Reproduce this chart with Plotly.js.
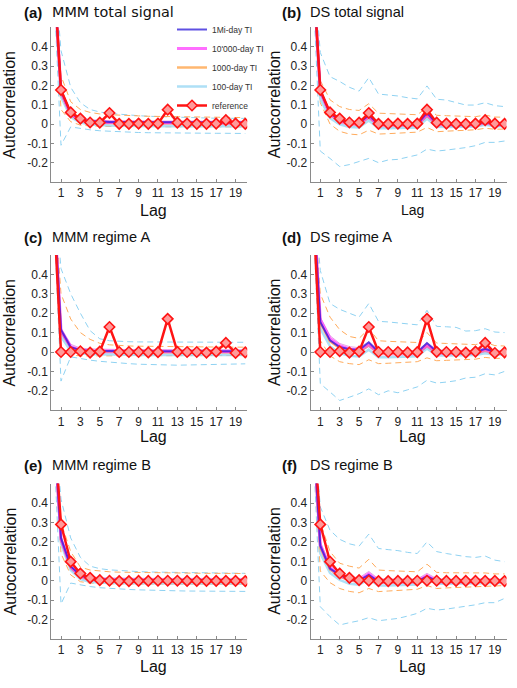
<!DOCTYPE html>
<html>
<head>
<meta charset="utf-8">
<script src="https://cdn.plot.ly/plotly-3.0.1.min.js"></script>
<style>
  html, body { margin: 0; padding: 0; background: #ffffff; }
  #chart { width: 517px; height: 688px; }
</style>
</head>
<body>
<div id="chart"></div>
<script>
// Lags 0..20 of the autocorrelation function
const lags = [0, 1, 2, 3, 4, 5, 6, 7, 8, 9, 10, 11, 12, 13, 14, 15, 16, 17, 18, 19, 20];

const xTickVals = [1, 3, 5, 7, 9, 11, 13, 15, 17, 19];
const yTickVals = [-0.2, -0.1, 0, 0.1, 0.2, 0.3, 0.4];
const yTickText = ['-0.2', '-0.1', '0', '0.1', '0.2', '0.3', '0.4'];

const seriesNames = ['1Mi-day TI', "10'000-day TI", '1000-day TI', '100-day TI', 'reference'];

// Reference (observed) autocorrelation
const refTotal = [1, 0.176, 0.06, 0.028, 0.008, 0.007, 0.057, 0.001, 0.001, 0.002, 0.001, 0.002, 0.074, 0.007, 0.002, 0.001, 0.001, 0.002, 0.02, 0.002, 0.001];
const refA = [1, 0, 0, 0.004, -0.003, 0.002, 0.129, 0, 0, 0, -0.002, -0.001, 0.171, 0.001, 0, 0, -0.003, 0.002, 0.047, -0.005, -0.002];
const refB = [1, 0.29, 0.098, 0.037, 0.015, 0.003, 0.0, -0.002, -0.002, -0.001, -0.001, 0.0, 0.0, 0.0, -0.001, -0.001, -0.001, -0.001, -0.001, -0.001, -0.002];

// (a) MMM total signal
const blue1Mi_a = [1, 0.172, 0.056, 0.025, 0.015, 0.012, 0.011, 0.01, 0.01, 0.01, 0.01, 0.009, 0.009, 0.009, 0.009, 0.009, 0.009, 0.009, 0.009, 0.008, 0.008];
const mag10k_a = [1, 0.168, 0.052, 0.022, 0.013, 0.01, 0.009, 0.009, 0.008, 0.008, 0.008, 0.008, 0.008, 0.008, 0.007, 0.007, 0.007, 0.007, 0.007, 0.007, 0.007];
const mag10kLo_a = [1, 0.155, 0.042, 0.013, 0.004, 0.002, 0.001, 0.001, 0, 0, 0, 0, 0, 0, 0, 0, 0, -0.001, -0.001, -0.001, -0.001];
const mag10kHi_a = [1, 0.18, 0.062, 0.031, 0.022, 0.018, 0.017, 0.016, 0.016, 0.015, 0.015, 0.015, 0.015, 0.015, 0.014, 0.014, 0.014, 0.014, 0.014, 0.014, 0.014];
const or1000_a = [1, 0.16, 0.048, 0.018, 0.009, 0.006, 0.005, 0.004, 0.004, 0.004, 0.003, 0.003, 0.003, 0.003, 0.003, 0.003, 0.003, 0.003, 0.003, 0.003, 0.003];
const or1000Lo_a = [1, 0.075, 0.012, -0.006, -0.01, -0.012, -0.013, -0.014, -0.014, -0.014, -0.015, -0.015, -0.015, -0.015, -0.015, -0.015, -0.015, -0.015, -0.015, -0.015, -0.015];
const or1000Hi_a = [1, 0.25, 0.115, 0.075, 0.06, 0.052, 0.048, 0.045, 0.043, 0.042, 0.04, 0.039, 0.038, 0.037, 0.036, 0.036, 0.035, 0.035, 0.034, 0.034, 0.033];
const lb100_a = [1, 0.14, 0.036, 0.008, -0.002, -0.006, -0.008, -0.009, -0.01, -0.01, -0.011, -0.011, -0.011, -0.011, -0.011, -0.012, -0.012, -0.012, -0.012, -0.012, -0.012];
const lb100Lo_a = [1, -0.11, -0.015, -0.024, -0.03, -0.035, -0.038, -0.04, -0.042, -0.044, -0.045, -0.046, -0.046, -0.047, -0.047, -0.048, -0.048, -0.048, -0.048, -0.049, -0.049];
const lb100Hi_a = [1, 0.38, 0.19, 0.11, 0.075, 0.062, 0.055, 0.05, 0.046, 0.043, 0.04, 0.038, 0.036, 0.034, 0.033, 0.032, 0.031, 0.03, 0.03, 0.029, 0.029];

// (b) DS total signal
const blue1Mi_b = [1, 0.172, 0.056, 0.02, 0.006, 0.005, 0.046, -0.002, -0.002, -0.001, -0.002, -0.001, 0.058, 0.003, -0.001, -0.002, -0.002, -0.001, 0.012, -0.001, -0.002];
const mag10k_b = [1, 0.168, 0.054, 0.018, 0.004, 0.003, 0.04, -0.003, -0.003, -0.002, -0.003, -0.002, 0.05, 0.002, -0.002, -0.003, -0.003, -0.002, 0.01, -0.002, -0.003];
const mag10kLo_b = [1, 0.155, 0.042, 0.006, -0.008, -0.009, 0.028, -0.014, -0.014, -0.013, -0.013, -0.012, 0.038, -0.008, -0.011, -0.012, -0.012, -0.011, 0.0, -0.011, -0.011];
const mag10kHi_b = [1, 0.18, 0.066, 0.03, 0.016, 0.015, 0.052, 0.008, 0.008, 0.009, 0.008, 0.008, 0.062, 0.012, 0.008, 0.007, 0.007, 0.008, 0.02, 0.007, 0.006];
const or1000_b = [1, 0.165, 0.05, 0.015, 0.0, -0.002, 0.035, -0.006, -0.006, -0.005, -0.005, -0.004, 0.042, 0.0, -0.004, -0.004, -0.004, -0.004, 0.008, -0.004, -0.004];
const or1000Lo_b = [1, 0.11, 0.0, -0.038, -0.052, -0.056, -0.032, -0.052, -0.05, -0.047, -0.045, -0.042, -0.018, -0.04, -0.037, -0.035, -0.032, -0.03, -0.022, -0.027, -0.026];
const or1000Hi_b = [1, 0.225, 0.125, 0.09, 0.075, 0.07, 0.105, 0.056, 0.054, 0.052, 0.05, 0.048, 0.085, 0.045, 0.043, 0.041, 0.039, 0.038, 0.046, 0.036, 0.035];
const lb100_b = [1, 0.13, 0.03, -0.002, -0.016, -0.018, 0.018, -0.022, -0.022, -0.02, -0.02, -0.018, 0.028, -0.014, -0.016, -0.015, -0.014, -0.013, -0.004, -0.012, -0.012];
const lb100Lo_b = [1, -0.14, -0.178, -0.22, -0.21, -0.195, -0.178, -0.2, -0.186, -0.183, -0.17, -0.16, -0.13, -0.14, -0.135, -0.13, -0.122, -0.112, -0.095, -0.095, -0.088];
const lb100Hi_b = [1, 0.37, 0.245, 0.22, 0.19, 0.17, 0.24, 0.155, 0.15, 0.145, 0.136, 0.13, 0.197, 0.128, 0.124, 0.112, 0.098, 0.098, 0.11, 0.095, 0.09];

// (c) MMM regime A
const blue1Mi_c = [1, 0.115, 0.025, 0.009, 0.006, 0.005, 0.005, 0.005, 0.004, 0.004, 0.004, 0.004, 0.004, 0.004, 0.004, 0.004, 0.004, 0.004, 0.004, 0.004, 0.004];
const mag10k_c = [1, 0.11, 0.028, 0.01, 0.006, 0.005, 0.004, 0.004, 0.004, 0.004, 0.004, 0.004, 0.004, 0.004, 0.004, 0.003, 0.003, 0.003, 0.003, 0.003, 0.003];
const mag10kLo_c = [1, 0.095, 0.016, 0.0, -0.004, -0.005, -0.005, -0.005, -0.005, -0.005, -0.005, -0.005, -0.005, -0.005, -0.005, -0.005, -0.005, -0.005, -0.005, -0.005, -0.005];
const mag10kHi_c = [1, 0.125, 0.04, 0.02, 0.016, 0.014, 0.013, 0.013, 0.013, 0.012, 0.012, 0.012, 0.012, 0.012, 0.012, 0.012, 0.012, 0.012, 0.012, 0.012, 0.012];
const or1000_c = [1, 0.105, 0.024, 0.006, 0.002, 0.001, 0.0, 0.0, 0.0, -0.001, -0.001, -0.001, -0.001, -0.001, -0.001, -0.001, -0.001, -0.001, -0.001, -0.001, -0.001];
const or1000Lo_c = [1, 0.0, -0.015, -0.02, -0.02, -0.02, -0.02, -0.02, -0.02, -0.02, -0.02, -0.02, -0.02, -0.02, -0.019, -0.019, -0.019, -0.018, -0.018, -0.018, -0.018];
const or1000Hi_c = [1, 0.3, 0.17, 0.1, 0.065, 0.045, 0.037, 0.033, 0.031, 0.03, 0.029, 0.028, 0.028, 0.027, 0.027, 0.026, 0.026, 0.026, 0.025, 0.025, 0.025];
const lb100_c = [1, 0.08, 0.005, -0.008, -0.012, -0.013, -0.014, -0.014, -0.015, -0.015, -0.015, -0.015, -0.015, -0.015, -0.015, -0.015, -0.015, -0.015, -0.015, -0.015, -0.015];
const lb100Lo_c = [1, -0.15, -0.025, -0.035, -0.042, -0.048, -0.053, -0.057, -0.06, -0.063, -0.065, -0.067, -0.068, -0.068, -0.067, -0.066, -0.065, -0.064, -0.063, -0.062, -0.061];
const lb100Hi_c = [1, 0.43, 0.3, 0.2, 0.11, 0.068, 0.058, 0.054, 0.053, 0.052, 0.052, 0.052, 0.052, 0.051, 0.051, 0.051, 0.051, 0.051, 0.051, 0.05, 0.05];

// (d) DS regime A
const blue1Mi_d = [1, 0.155, 0.06, 0.026, 0.014, 0.01, 0.05, 0.0, -0.003, -0.003, -0.003, -0.003, 0.046, 0.003, -0.002, -0.002, -0.002, -0.001, 0.017, 0.0, -0.001];
const mag10k_d = [1, 0.165, 0.07, 0.032, 0.016, 0.01, 0.04, -0.002, -0.004, -0.004, -0.004, -0.004, 0.036, 0.001, -0.003, -0.003, -0.003, -0.002, 0.012, -0.002, -0.002];
const mag10kLo_d = [1, 0.15, 0.056, 0.02, 0.004, -0.002, 0.027, -0.014, -0.016, -0.016, -0.016, -0.015, 0.024, -0.011, -0.014, -0.014, -0.013, -0.012, 0.001, -0.012, -0.012];
const mag10kHi_d = [1, 0.18, 0.084, 0.044, 0.028, 0.022, 0.053, 0.01, 0.008, 0.008, 0.008, 0.007, 0.048, 0.012, 0.008, 0.008, 0.007, 0.008, 0.023, 0.008, 0.008];
const or1000_d = [1, 0.15, 0.055, 0.02, 0.005, 0.0, 0.035, -0.008, -0.008, -0.008, -0.008, -0.007, 0.032, -0.003, -0.006, -0.006, -0.006, -0.005, 0.008, -0.005, -0.005];
const or1000Lo_d = [1, 0.06, -0.02, -0.05, -0.06, -0.065, -0.04, -0.06, -0.058, -0.055, -0.052, -0.05, -0.03, -0.045, -0.043, -0.041, -0.039, -0.037, -0.028, -0.033, -0.032];
const or1000Hi_d = [1, 0.3, 0.18, 0.115, 0.08, 0.07, 0.12, 0.058, 0.055, 0.053, 0.05, 0.049, 0.1, 0.046, 0.044, 0.042, 0.04, 0.038, 0.05, 0.033, 0.031];
const lb100_d = [1, 0.12, 0.03, -0.006, -0.02, -0.023, 0.012, -0.027, -0.027, -0.025, -0.024, -0.022, 0.018, -0.018, -0.018, -0.017, -0.016, -0.015, -0.006, -0.014, -0.013];
const lb100Lo_d = [1, -0.163, -0.206, -0.25, -0.233, -0.215, -0.19, -0.22, -0.2, -0.21, -0.195, -0.18, -0.146, -0.16, -0.155, -0.148, -0.134, -0.13, -0.112, -0.118, -0.1];
const lb100Hi_d = [1, 0.42, 0.25, 0.22, 0.2, 0.18, 0.25, 0.158, 0.155, 0.15, 0.146, 0.14, 0.215, 0.132, 0.13, 0.127, 0.108, 0.11, 0.12, 0.103, 0.1];

// (e) MMM regime B
const blue1Mi_e = [1, 0.22, 0.075, 0.028, 0.012, 0.007, 0.005, 0.005, 0.004, 0.004, 0.004, 0.004, 0.004, 0.004, 0.004, 0.004, 0.004, 0.004, 0.004, 0.004, 0.004];
const mag10k_e = [1, 0.215, 0.072, 0.026, 0.011, 0.006, 0.004, 0.004, 0.004, 0.004, 0.003, 0.003, 0.003, 0.003, 0.003, 0.003, 0.003, 0.003, 0.003, 0.003, 0.003];
const mag10kLo_e = [1, 0.2, 0.06, 0.015, 0.0, -0.004, -0.005, -0.005, -0.005, -0.005, -0.005, -0.005, -0.005, -0.005, -0.005, -0.005, -0.005, -0.005, -0.005, -0.005, -0.005];
const mag10kHi_e = [1, 0.23, 0.085, 0.037, 0.022, 0.016, 0.014, 0.013, 0.013, 0.012, 0.012, 0.012, 0.012, 0.012, 0.012, 0.012, 0.012, 0.012, 0.012, 0.012, 0.012];
const or1000_e = [1, 0.21, 0.068, 0.022, 0.007, 0.002, 0.0, -0.001, -0.001, -0.001, -0.001, -0.001, -0.001, -0.001, -0.001, -0.001, -0.001, -0.001, -0.001, -0.001, -0.001];
const or1000Lo_e = [1, 0.14, 0.03, -0.005, -0.012, -0.015, -0.016, -0.017, -0.017, -0.017, -0.017, -0.017, -0.017, -0.017, -0.017, -0.017, -0.017, -0.017, -0.017, -0.017, -0.017];
const or1000Hi_e = [1, 0.3, 0.15, 0.07, 0.055, 0.049, 0.046, 0.044, 0.043, 0.042, 0.041, 0.04, 0.04, 0.039, 0.039, 0.038, 0.038, 0.038, 0.037, 0.037, 0.037];
const lb100_e = [1, 0.19, 0.055, 0.008, -0.006, -0.01, -0.012, -0.013, -0.013, -0.014, -0.014, -0.014, -0.014, -0.014, -0.014, -0.014, -0.014, -0.014, -0.014, -0.014, -0.014];
const lb100Lo_e = [1, -0.12, -0.012, -0.022, -0.03, -0.036, -0.04, -0.043, -0.045, -0.047, -0.049, -0.05, -0.051, -0.052, -0.053, -0.053, -0.054, -0.054, -0.055, -0.055, -0.055];
const lb100Hi_e = [1, 0.42, 0.22, 0.12, 0.075, 0.062, 0.056, 0.052, 0.049, 0.047, 0.045, 0.044, 0.043, 0.042, 0.041, 0.04, 0.04, 0.039, 0.039, 0.038, 0.038];

// (f) DS regime B
const blue1Mi_f = [1, 0.18, 0.063, 0.03, 0.008, 0.002, 0.03, -0.003, -0.004, -0.003, -0.003, -0.003, 0.022, -0.001, -0.003, -0.003, -0.003, -0.003, 0.001, -0.003, -0.003];
const mag10k_f = [1, 0.185, 0.068, 0.03, 0.01, 0.003, 0.036, -0.002, -0.003, -0.003, -0.003, -0.002, 0.026, 0.0, -0.003, -0.003, -0.003, -0.002, 0.002, -0.002, -0.003];
const mag10kLo_f = [1, 0.17, 0.055, 0.018, -0.002, -0.009, 0.024, -0.014, -0.015, -0.014, -0.014, -0.013, 0.014, -0.011, -0.013, -0.013, -0.013, -0.012, -0.008, -0.012, -0.012];
const mag10kHi_f = [1, 0.2, 0.08, 0.042, 0.022, 0.015, 0.048, 0.01, 0.009, 0.009, 0.009, 0.009, 0.038, 0.011, 0.008, 0.008, 0.008, 0.008, 0.012, 0.008, 0.007];
const or1000_f = [1, 0.17, 0.058, 0.022, 0.002, -0.005, 0.025, -0.009, -0.009, -0.008, -0.008, -0.007, 0.018, -0.005, -0.006, -0.006, -0.006, -0.005, -0.002, -0.005, -0.005];
const or1000Lo_f = [1, 0.05, -0.01, -0.04, -0.055, -0.062, -0.04, -0.056, -0.053, -0.05, -0.047, -0.044, -0.025, -0.04, -0.037, -0.035, -0.033, -0.031, -0.027, -0.027, -0.025];
const or1000Hi_f = [1, 0.3, 0.15, 0.09, 0.075, 0.065, 0.11, 0.055, 0.052, 0.05, 0.048, 0.046, 0.085, 0.043, 0.041, 0.04, 0.039, 0.038, 0.04, 0.035, 0.035];
const lb100_f = [1, 0.14, 0.04, 0.004, -0.016, -0.021, 0.008, -0.024, -0.024, -0.022, -0.021, -0.019, 0.01, -0.016, -0.016, -0.015, -0.014, -0.013, -0.01, -0.012, -0.012];
const lb100Lo_f = [1, -0.134, -0.185, -0.228, -0.216, -0.206, -0.19, -0.206, -0.2, -0.194, -0.182, -0.168, -0.142, -0.151, -0.146, -0.139, -0.13, -0.124, -0.113, -0.113, -0.091];
const lb100Hi_f = [1, 0.38, 0.26, 0.213, 0.19, 0.178, 0.24, 0.166, 0.16, 0.155, 0.146, 0.14, 0.2, 0.15, 0.14, 0.132, 0.124, 0.12, 0.127, 0.106, 0.098];

// Panel definitions: letter, title, font of title, data
const panels = [
  { tag: '(a)', title: 'MMM total signal', titleFont: 'DejaVu Sans', ref: refTotal,
    blue: blue1Mi_a, mag: mag10k_a, magLo: mag10kLo_a, magHi: mag10kHi_a,
    or: or1000_a, orLo: or1000Lo_a, orHi: or1000Hi_a, lb: lb100_a, lbLo: lb100Lo_a, lbHi: lb100Hi_a },
  { tag: '(b)', title: 'DS total signal', titleFont: 'Liberation Sans', ref: refTotal,
    blue: blue1Mi_b, mag: mag10k_b, magLo: mag10kLo_b, magHi: mag10kHi_b,
    or: or1000_b, orLo: or1000Lo_b, orHi: or1000Hi_b, lb: lb100_b, lbLo: lb100Lo_b, lbHi: lb100Hi_b },
  { tag: '(c)', title: 'MMM regime A', titleFont: 'Liberation Sans', ref: refA,
    blue: blue1Mi_c, mag: mag10k_c, magLo: mag10kLo_c, magHi: mag10kHi_c,
    or: or1000_c, orLo: or1000Lo_c, orHi: or1000Hi_c, lb: lb100_c, lbLo: lb100Lo_c, lbHi: lb100Hi_c },
  { tag: '(d)', title: 'DS regime A', titleFont: 'Liberation Sans', ref: refA,
    blue: blue1Mi_d, mag: mag10k_d, magLo: mag10kLo_d, magHi: mag10kHi_d,
    or: or1000_d, orLo: or1000Lo_d, orHi: or1000Hi_d, lb: lb100_d, lbLo: lb100Lo_d, lbHi: lb100Hi_d },
  { tag: '(e)', title: 'MMM regime B', titleFont: 'Liberation Sans', ref: refB,
    blue: blue1Mi_e, mag: mag10k_e, magLo: mag10kLo_e, magHi: mag10kHi_e,
    or: or1000_e, orLo: or1000Lo_e, orHi: or1000Hi_e, lb: lb100_e, lbLo: lb100Lo_e, lbHi: lb100Hi_e },
  { tag: '(f)', title: 'DS regime B', titleFont: 'Liberation Sans', ref: refB,
    blue: blue1Mi_f, mag: mag10k_f, magLo: mag10kLo_f, magHi: mag10kHi_f,
    or: or1000_f, orLo: or1000Lo_f, orHi: or1000Hi_f, lb: lb100_f, lbLo: lb100Lo_f, lbHi: lb100Hi_f }
];

const W = 517, H = 688;
const px = v => v / W;
const py = v => 1 - v / H;

// Plot-area geometry (pixels) for the 3x2 grid
const colLeft = [51.3, 310.6];
const colRight = [247.2, 506.5];
const rowTop = [27.35, 255, 483.6];
const rowBottom = [182, 410.2, 639];

const C = {
  blue: '#2a16d8',
  mag: '#ff30ff',
  magThin: '#d25ad2',
  orange: '#ff9f40',
  orangeDash: '#ffab5c',
  lblue: '#9ad8f4',
  lblueDash: '#8fd2f2',
  red: '#ff1414',
  axis: '#8a8a8a',
  text: '#222222'
};

const traces = [];
const layout = {
  width: W, height: H,
  margin: { l: 0, r: 0, t: 0, b: 0 },
  paper_bgcolor: '#ffffff',
  plot_bgcolor: 'rgba(0,0,0,0)',
  showlegend: true,
  hovermode: false,
  font: { family: 'Liberation Sans, Arial, sans-serif', color: C.text },
  legend: {
    x: px(172), y: py(15), xanchor: 'left', yanchor: 'top',
    bgcolor: 'rgba(0,0,0,0)', borderwidth: 0,
    font: { size: 8.5, family: 'Liberation Sans', color: '#333' },
    itemwidth: 30, tracegroupgap: 0
  },
  annotations: []
};

panels.forEach((p, i) => {
  const row = Math.floor(i / 2), col = i % 2;
  const s = i === 0 ? '' : String(i + 1);
  const xa = 'x' + s, ya = 'y' + s;
  const first = i === 0;

  layout['xaxis' + s] = {
    domain: [px(colLeft[col]), px(colRight[col])],
    anchor: ya, range: [0, 20.2],
    tickmode: 'array', tickvals: xTickVals,
    ticks: 'inside', ticklen: 3, tickcolor: C.axis, tickwidth: 1,
    showline: true, linecolor: C.axis, linewidth: 1,
    showgrid: false, zeroline: false, fixedrange: true,
    tickfont: { size: 12, family: 'Liberation Sans', color: C.text }
  };
  layout['yaxis' + s] = {
    domain: [py(rowBottom[row]), py(rowTop[row])],
    anchor: xa, range: [-0.3, 0.5],
    tickmode: 'array', tickvals: yTickVals, ticktext: yTickText,
    ticks: 'inside', ticklen: 3, tickcolor: C.axis, tickwidth: 1,
    showline: true, linecolor: C.axis, linewidth: 1,
    showgrid: false, zeroline: false, fixedrange: true,
    tickfont: { size: 12, family: 'Liberation Sans', color: C.text }
  };

  const ln = (y, color, width, dash, opacity, extra) => Object.assign({
    type: 'scatter', mode: 'lines', x: lags, y: y, xaxis: xa, yaxis: ya,
    line: { color: color, width: width, dash: dash },
    opacity: opacity, showlegend: false, hoverinfo: 'skip'
  }, extra || {});

  // spread bounds (dashed)
  traces.push(ln(p.lbHi, C.lblueDash, 1, '6px,4px', 1));
  traces.push(ln(p.lbLo, C.lblueDash, 1, '6px,4px', 1));
  traces.push(ln(p.orHi, C.orangeDash, 1, '6px,4px', 1));
  traces.push(ln(p.orLo, C.orangeDash, 1, '6px,4px', 1));
  // ensemble means
  traces.push(ln(p.lb, C.lblue, 2.5, 'solid', 0.8,
    { name: seriesNames[3], showlegend: first, legendrank: 4 }));
  traces.push(ln(p.or, C.orange, 2.5, 'solid', 0.75,
    { name: seriesNames[2], showlegend: first, legendrank: 3 }));
  traces.push(ln(p.magLo, C.magThin, 0.8, 'solid', 0.7));
  traces.push(ln(p.magHi, C.magThin, 0.8, 'solid', 0.7));
  traces.push(ln(p.mag, C.mag, 3, 'solid', 0.7,
    { name: seriesNames[1], showlegend: first, legendrank: 2 }));
  traces.push(ln(p.blue, C.blue, 2, 'solid', 0.75,
    { name: seriesNames[0], showlegend: first, legendrank: 1 }));
  // reference
  traces.push({
    type: 'scatter', mode: 'lines+markers', x: lags, y: p.ref, xaxis: xa, yaxis: ya,
    name: seriesNames[4], showlegend: first, legendrank: 5, hoverinfo: 'skip',
    line: { color: C.red, width: 2.5 },
    marker: { symbol: 'diamond', size: 8, color: '#ff9a9a', line: { color: C.red, width: 1.6 } }
  });

  // panel heading
  const headY = [12.5, 237, 465][row];
  const tagX = [22.7, 280.7][col];
  const titleX = [51, 309][col];
  layout.annotations.push({
    xref: 'paper', yref: 'paper', x: px(tagX - 1), y: py(headY),
    xanchor: 'left', yanchor: 'middle', showarrow: false,
    text: '<b>' + p.tag + '</b>',
    font: { family: 'Liberation Sans', size: 15, color: '#111' }
  });
  layout.annotations.push({
    xref: 'paper', yref: 'paper', x: px(titleX - 1), y: py(headY),
    xanchor: 'left', yanchor: 'middle', showarrow: false,
    text: p.title,
    font: { family: p.titleFont, size: i === 0 ? 14.4 : 14.6, color: '#111' }
  });

  // axis titles
  const midY = (rowTop[row] + rowBottom[row]) / 2;
  layout.annotations.push({
    xref: 'paper', yref: 'paper', x: px([10, 274.5][col]), y: py(midY),
    xanchor: 'center', yanchor: 'middle', showarrow: false, textangle: -90,
    text: 'Autocorrelation',
    font: { family: 'Liberation Sans', size: 16, color: '#111' }
  });
  layout.annotations.push({
    xref: 'paper', yref: 'paper', x: px([153.5, 412][col]), y: py([210, 436, 666][row]),
    xanchor: 'center', yanchor: 'middle', showarrow: false,
    text: 'Lag',
    font: { family: 'Liberation Sans', size: i === 1 ? 14 : 16, color: '#111' }
  });
});

Plotly.newPlot('chart', traces, layout, { displayModeBar: false, staticPlot: true });
</script>
</body>
</html>
